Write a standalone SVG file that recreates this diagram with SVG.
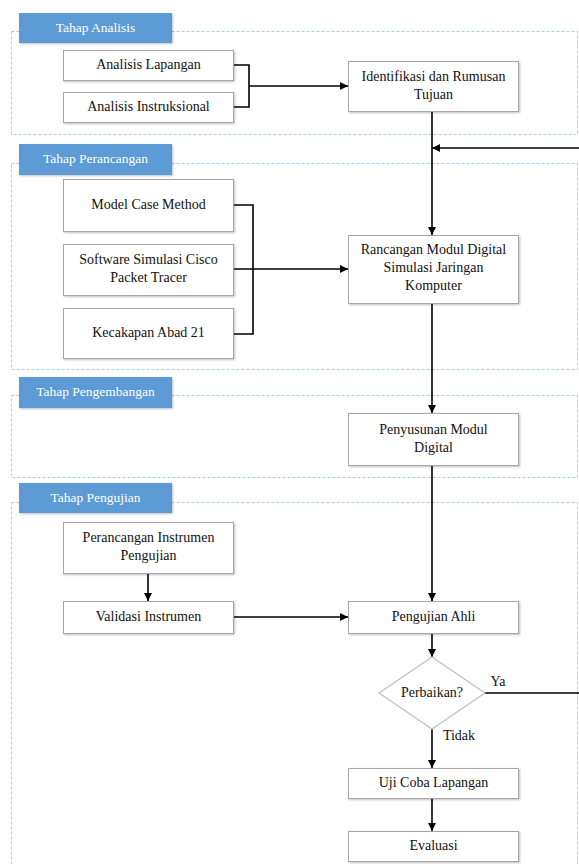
<svg xmlns="http://www.w3.org/2000/svg" width="579" height="864" viewBox="0 0 579 864">
<defs>
<marker id="ah" viewBox="0 0 10 10" refX="10" refY="5" markerWidth="5" markerHeight="5" orient="auto" markerUnits="strokeWidth">
<path d="M0,0 L10,5 L0,10 z" fill="#000"/>
</marker>
<filter id="sh" x="-10%" y="-10%" width="130%" height="140%">
<feDropShadow dx="1" dy="1" stdDeviation="1" flood-color="#000" flood-opacity="0.25"/>
</filter>
</defs>
<style>
.cont{fill:none;stroke:#a9cdec;stroke-width:1;stroke-dasharray:3 2}
.lab{fill:#5b9bd5;filter:url(#sh)}
.labt{fill:#fff;font-family:"Liberation Serif",serif;font-size:13.5px;text-anchor:middle}
.box{fill:#fff;stroke:#a6a6a6;stroke-width:1;filter:url(#sh)}
.t{fill:#111;font-family:"Liberation Serif",serif;font-size:14px;text-anchor:middle}
.c{fill:none;stroke:#000;stroke-width:1.6}
.ca{fill:none;stroke:#000;stroke-width:1.6;marker-end:url(#ah)}
</style>
<rect width="579" height="864" fill="#fff"/>

<g id="stage-analisis">
<rect class="cont" x="11.5" y="31.5" width="566" height="103"/>
<rect class="lab" x="19" y="13" width="153" height="30"/>
<text class="labt" x="95.5" y="32">Tahap Analisis</text>
</g>
<g id="stage-perancangan">
<rect class="cont" x="11.5" y="163.5" width="566" height="206"/>
<rect class="lab" x="19" y="144" width="153" height="31"/>
<text class="labt" x="95.5" y="163">Tahap Perancangan</text>
</g>
<g id="stage-pengembangan">
<rect class="cont" x="11.5" y="395.5" width="566" height="82"/>
<rect class="lab" x="19" y="377" width="153" height="31"/>
<text class="labt" x="95.5" y="396">Tahap Pengembangan</text>
</g>
<g id="stage-pengujian">
<rect class="cont" x="11.5" y="502.5" width="566" height="380"/>
<rect class="lab" x="19" y="483" width="153" height="30"/>
<text class="labt" x="95.5" y="502">Tahap Pengujian</text>
</g>

<g id="connectors">
<path class="c" d="M234,65 H249 V107 H234"/>
<path class="ca" d="M249,86 H348"/>
<path class="ca" d="M432,111 V235"/>
<path class="ca" d="M579,148 H432"/>
<path class="c" d="M234,205 H253 V334 H234"/>
<path class="ca" d="M234,269 H348"/>
<path class="ca" d="M432,303 V413"/>
<path class="ca" d="M432,465 V601"/>
<path class="ca" d="M148,573 V601"/>
<path class="ca" d="M234,617 H348"/>
<path class="ca" d="M432,633 V657"/>
<path class="c" d="M485,693 H579"/>
<path class="ca" d="M432,729 V768"/>
<path class="ca" d="M432,798 V831"/>
<text class="t" x="498" y="686">Ya</text>
<text class="t" x="459" y="740">Tidak</text>
</g>

<g id="analisis-lapangan">
<rect class="box" x="63.5" y="50.5" width="170" height="30"/>
<text class="t" x="148.5" y="69">Analisis Lapangan</text>
</g>
<g id="analisis-instruksional">
<rect class="box" x="63.5" y="92.5" width="170" height="30"/>
<text class="t" x="148.5" y="111">Analisis Instruksional</text>
</g>
<g id="identifikasi">
<rect class="box" x="348.5" y="61.5" width="170" height="50"/>
<text class="t" x="433.5" y="81">Identifikasi dan Rumusan</text>
<text class="t" x="433.5" y="99">Tujuan</text>
</g>
<g id="model-case">
<rect class="box" x="63.5" y="179.5" width="170" height="52"/>
<text class="t" x="148.5" y="209">Model Case Method</text>
</g>
<g id="software">
<rect class="box" x="63.5" y="244.5" width="170" height="51"/>
<text class="t" x="148.5" y="264">Software Simulasi Cisco</text>
<text class="t" x="148.5" y="282">Packet Tracer</text>
</g>
<g id="kecakapan">
<rect class="box" x="63.5" y="308.5" width="170" height="50"/>
<text class="t" x="148.5" y="337">Kecakapan Abad 21</text>
</g>
<g id="rancangan">
<rect class="box" x="348.5" y="235.5" width="170" height="68"/>
<text class="t" x="433.5" y="254">Rancangan Modul Digital</text>
<text class="t" x="433.5" y="272">Simulasi Jaringan</text>
<text class="t" x="433.5" y="290">Komputer</text>
</g>
<g id="penyusunan">
<rect class="box" x="348.5" y="413.5" width="170" height="52"/>
<text class="t" x="433.5" y="434">Penyusunan Modul</text>
<text class="t" x="433.5" y="452">Digital</text>
</g>
<g id="perancangan-instrumen">
<rect class="box" x="63.5" y="522.5" width="170" height="51"/>
<text class="t" x="148.5" y="542">Perancangan Instrumen</text>
<text class="t" x="148.5" y="560">Pengujian</text>
</g>
<g id="validasi">
<rect class="box" x="63.5" y="601.5" width="170" height="32"/>
<text class="t" x="148.5" y="621">Validasi Instrumen</text>
</g>
<g id="pengujian-ahli">
<rect class="box" x="348.5" y="601.5" width="170" height="32"/>
<text class="t" x="433.5" y="621">Pengujian Ahli</text>
</g>
<g id="perbaikan">
<polygon points="432,657 485,693 432,729 379,693" fill="#fff" stroke="#bfbfbf" stroke-width="1.2"/>
<text class="t" x="432" y="697">Perbaikan?</text>
</g>
<g id="uji-coba">
<rect class="box" x="348.5" y="768.5" width="170" height="30"/>
<text class="t" x="433.5" y="787">Uji Coba Lapangan</text>
</g>
<g id="evaluasi">
<rect class="box" x="348.5" y="831.5" width="170" height="30"/>
<text class="t" x="433.5" y="850">Evaluasi</text>
</g>
</svg>
